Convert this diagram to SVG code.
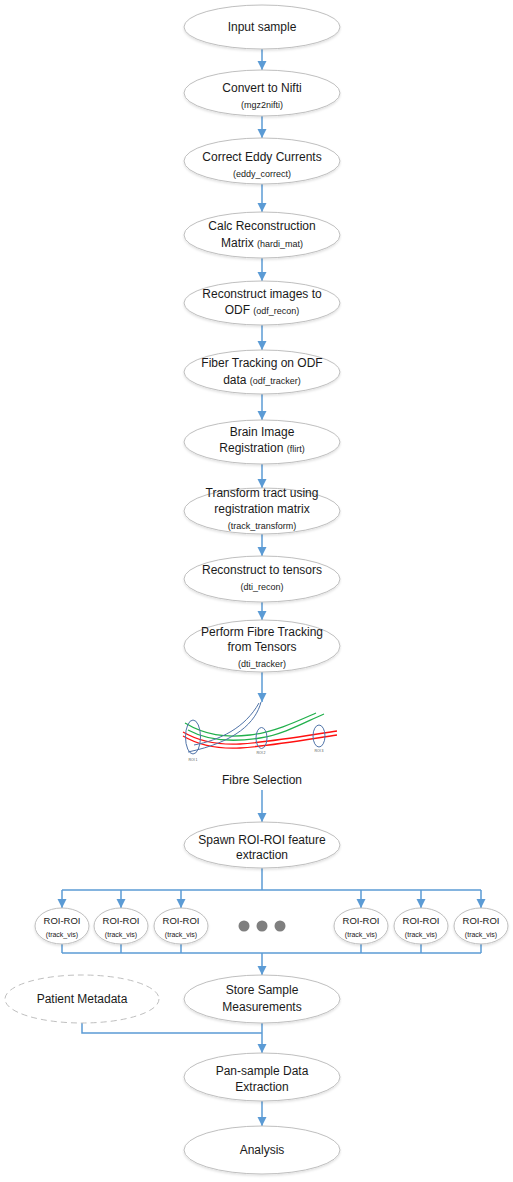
<svg xmlns="http://www.w3.org/2000/svg" width="513" height="1182" viewBox="0 0 513 1182">
<style>
.n{fill:#fff;stroke:#BFBFBF;stroke-width:1;filter:url(#sh)}
.d{fill:#fff;stroke:#BFBFBF;stroke-width:1;stroke-dasharray:6 4}
.t{font-family:"Liberation Sans",Arial,sans-serif;font-size:12px;fill:#1a1a1a;text-anchor:middle}
.s{font-size:9px}
.r{font-family:"Liberation Sans",Arial,sans-serif;font-size:9.5px;fill:#1a1a1a;text-anchor:middle}
.rs{font-size:7px}
.c{fill:none;stroke:#5B9BD5;stroke-width:1.5}
.a{marker-end:url(#ah)}
.tiny{font-family:"Liberation Sans",Arial,sans-serif;font-size:3.5px;fill:#555;text-anchor:middle}
</style>
<defs>
<marker id="ah" viewBox="0 0 10 10" refX="10" refY="5" markerWidth="9" markerHeight="10" markerUnits="userSpaceOnUse" orient="auto">
<path d="M0,0 L10,5 L0,10 z" fill="#5B9BD5"/>
</marker>
<filter id="sh" x="-10%" y="-20%" width="120%" height="150%">
<feDropShadow dx="0" dy="1.5" stdDeviation="1.2" flood-color="#000" flood-opacity="0.12"/>
</filter>
</defs>
<rect width="513" height="1182" fill="#fff"/>
<g id="connectors">
<line class="c a" x1="262" y1="49" x2="262" y2="70"/>
<line class="c a" x1="262" y1="116" x2="262" y2="138"/>
<line class="c a" x1="262" y1="184" x2="262" y2="212"/>
<line class="c a" x1="262" y1="258" x2="262" y2="281"/>
<line class="c a" x1="262" y1="325" x2="262" y2="350"/>
<line class="c a" x1="262" y1="394" x2="262" y2="420"/>
<line class="c a" x1="262" y1="464" x2="262" y2="488"/>
<line class="c a" x1="262" y1="534" x2="262" y2="556"/>
<line class="c a" x1="262" y1="602" x2="262" y2="620"/>
<line class="c a" x1="262" y1="672" x2="262" y2="702"/>
<line class="c a" x1="262" y1="790" x2="262" y2="822"/>
<polyline class="c" points="262,868 262,890"/>
<line class="c" x1="62" y1="890" x2="481" y2="890"/>
<line class="c a" x1="62" y1="890" x2="62" y2="908"/>
<line class="c a" x1="121" y1="890" x2="121" y2="908"/>
<line class="c a" x1="181" y1="890" x2="181" y2="908"/>
<line class="c a" x1="361" y1="890" x2="361" y2="908"/>
<line class="c a" x1="421" y1="890" x2="421" y2="908"/>
<line class="c a" x1="481" y1="890" x2="481" y2="908"/>
<line class="c" x1="62" y1="944" x2="62" y2="953"/>
<line class="c" x1="121" y1="944" x2="121" y2="953"/>
<line class="c" x1="181" y1="944" x2="181" y2="953"/>
<line class="c" x1="361" y1="944" x2="361" y2="953"/>
<line class="c" x1="421" y1="944" x2="421" y2="953"/>
<line class="c" x1="481" y1="944" x2="481" y2="953"/>
<line class="c" x1="62" y1="953" x2="481" y2="953"/>
<line class="c a" x1="262" y1="953" x2="262" y2="975"/>
<polyline class="c" points="82,1023 82,1033 262,1033"/>
<line class="c a" x1="262" y1="1023" x2="262" y2="1053"/>
<line class="c a" x1="262" y1="1101" x2="262" y2="1126"/>
</g>
<g id="input"><ellipse class="n" cx="262" cy="27" rx="78" ry="22"/><text class="t" x="262" y="31">Input sample</text></g>
<g id="convert"><ellipse class="n" cx="262" cy="93" rx="78" ry="23"/><text class="t" x="262" y="92">Convert to Nifti</text><text class="t s" x="262" y="108">(mgz2nifti)</text></g>
<g id="eddy"><ellipse class="n" cx="262" cy="161" rx="78" ry="23"/><text class="t" x="262" y="161">Correct Eddy Currents</text><text class="t s" x="262" y="177">(eddy_correct)</text></g>
<g id="calc"><ellipse class="n" cx="262" cy="235" rx="78" ry="23"/><text class="t" x="262" y="230">Calc Reconstruction</text><text class="t" x="262" y="247">Matrix <tspan class="s">(hardi_mat)</tspan></text></g>
<g id="recon"><ellipse class="n" cx="262" cy="303" rx="78" ry="22"/><text class="t" x="262" y="298">Reconstruct images to</text><text class="t" x="262" y="314">ODF <tspan class="s">(odf_recon)</tspan></text></g>
<g id="fiber"><ellipse class="n" cx="262" cy="372" rx="78" ry="22"/><text class="t" x="262" y="367">Fiber Tracking on ODF</text><text class="t" x="262" y="384">data <tspan class="s">(odf_tracker)</tspan></text></g>
<g id="brain"><ellipse class="n" cx="262" cy="442" rx="78" ry="22"/><text class="t" x="262" y="436">Brain Image</text><text class="t" x="262" y="452">Registration <tspan class="s">(flirt)</tspan></text></g>
<g id="transform"><ellipse class="n" cx="262" cy="511" rx="78" ry="23"/><text class="t" x="262" y="497">Transform tract using</text><text class="t" x="262" y="513">registration matrix</text><text class="t s" x="262" y="529">(track_transform)</text></g>
<g id="tensors"><ellipse class="n" cx="262" cy="579" rx="78" ry="23"/><text class="t" x="262" y="574">Reconstruct to tensors</text><text class="t s" x="262" y="590">(dti_recon)</text></g>
<g id="perform"><ellipse class="n" cx="262" cy="646" rx="78" ry="26"/><text class="t" x="262" y="636">Perform Fibre Tracking</text><text class="t" x="262" y="651">from Tensors</text><text class="t s" x="262" y="667">(dti_tracker)</text></g>
<g id="fibre-selection">
<path d="M185,723 C205,735 225,738 250,735 C275,732 300,720 316,713" fill="none" stroke="#22B04C" stroke-width="1.3"/>
<path d="M188,730 C210,742 235,742 260,738 C285,734 305,722 324,714" fill="none" stroke="#22B04C" stroke-width="1.3"/>
<path d="M183,732 C200,742 220,745 240,744 C270,742 310,735 337,731" fill="none" stroke="#FF1010" stroke-width="1.3"/>
<path d="M183,736 C200,746 220,749 240,748 C270,746 310,739 337,735" fill="none" stroke="#FF1010" stroke-width="1.3"/>
<path d="M261,702 C256,722 236,742 188,752" fill="none" stroke="#4F73A8" stroke-width="1"/>
<path d="M259,703 C245,728 220,740 194,745" fill="none" stroke="#4F73A8" stroke-width="1"/>
<ellipse cx="193" cy="737" rx="7.5" ry="17" fill="none" stroke="#4F73A8" stroke-width="1"/>
<ellipse cx="261.5" cy="738" rx="5.5" ry="10.5" fill="none" stroke="#4F73A8" stroke-width="1"/>
<ellipse cx="319" cy="736" rx="6" ry="11" fill="none" stroke="#4F73A8" stroke-width="1"/>
<text class="tiny" x="193" y="761">ROI 1</text>
<text class="tiny" x="261" y="754">ROI 2</text>
<text class="tiny" x="319" y="752">ROI 3</text>
<text class="t" x="262" y="784">Fibre Selection</text>
</g>
<g id="spawn"><ellipse class="n" cx="262" cy="845" rx="78" ry="23"/><text class="t" x="262" y="844">Spawn ROI-ROI feature</text><text class="t" x="262" y="859">extraction</text></g>
<g id="roi1"><ellipse class="n" cx="62" cy="926" rx="27" ry="18"/><text class="r" x="62" y="924">ROI-ROI</text><text class="r rs" x="62" y="937">(track_vis)</text></g>
<g id="roi2"><ellipse class="n" cx="121" cy="926" rx="27" ry="18"/><text class="r" x="121" y="924">ROI-ROI</text><text class="r rs" x="121" y="937">(track_vis)</text></g>
<g id="roi3"><ellipse class="n" cx="181" cy="926" rx="27" ry="18"/><text class="r" x="181" y="924">ROI-ROI</text><text class="r rs" x="181" y="937">(track_vis)</text></g>
<g id="ellipsis"><circle cx="244" cy="926" r="5.5" fill="#7F7F7F"/><circle cx="262" cy="926" r="5.5" fill="#7F7F7F"/><circle cx="280" cy="926" r="5.5" fill="#7F7F7F"/></g>
<g id="roi4"><ellipse class="n" cx="361" cy="926" rx="27" ry="18"/><text class="r" x="361" y="924">ROI-ROI</text><text class="r rs" x="361" y="937">(track_vis)</text></g>
<g id="roi5"><ellipse class="n" cx="421" cy="926" rx="27" ry="18"/><text class="r" x="421" y="924">ROI-ROI</text><text class="r rs" x="421" y="937">(track_vis)</text></g>
<g id="roi6"><ellipse class="n" cx="481" cy="926" rx="27" ry="18"/><text class="r" x="481" y="924">ROI-ROI</text><text class="r rs" x="481" y="937">(track_vis)</text></g>
<g id="patient"><ellipse class="d" cx="82" cy="999" rx="77" ry="24"/><text class="t" x="82" y="1003">Patient Metadata</text></g>
<g id="store"><ellipse class="n" cx="262" cy="999" rx="78" ry="24"/><text class="t" x="262" y="994">Store Sample</text><text class="t" x="262" y="1011">Measurements</text></g>
<g id="pan"><ellipse class="n" cx="262" cy="1077" rx="78" ry="24"/><text class="t" x="262" y="1075">Pan-sample Data</text><text class="t" x="262" y="1091">Extraction</text></g>
<g id="analysis"><ellipse class="n" cx="262" cy="1150" rx="78" ry="24"/><text class="t" x="262" y="1154">Analysis</text></g>
</svg>
